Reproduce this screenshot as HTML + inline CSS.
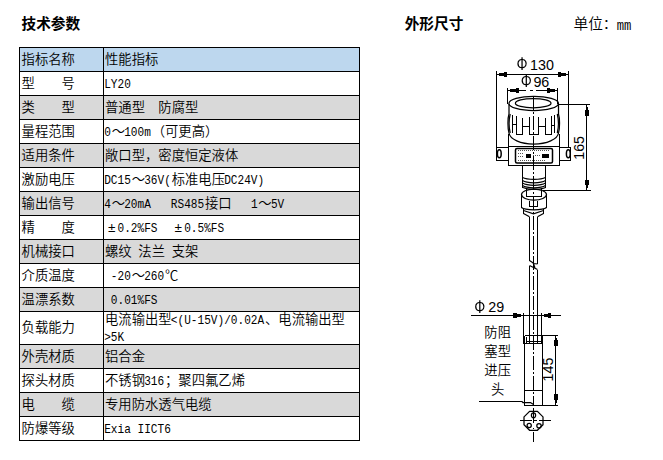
<!DOCTYPE html>
<html lang="zh-CN">
<head>
<meta charset="utf-8">
<title>技术参数</title>
<style>
html,body{margin:0;padding:0;background:#fff;}
body{width:663px;height:460px;position:relative;overflow:hidden;font-family:"Liberation Mono","Noto Sans CJK SC",sans-serif;color:#000;font-weight:350;}
.h{position:absolute;font-family:"Liberation Sans","Noto Sans CJK SC",sans-serif;font-weight:bold;font-size:14.67px;line-height:20px;white-space:nowrap;}
.u{position:absolute;font-size:14.67px;line-height:20px;white-space:nowrap;}
#tb{position:absolute;left:19px;top:47px;width:341px;height:394px;background:#000;}
.r{position:absolute;left:1px;width:339px;height:23px;background:#fff;}
.r.g{background:#d9d9d9;}
.r.b{background:#bdd7ee;}
.r i{position:absolute;left:83px;top:0;width:1px;height:100%;background:#000;}
.r span{position:absolute;top:1px;line-height:23px;font-size:13.333px;white-space:pre;}
.r .a{left:1.6px;}
.r .c{left:85px;}
.r span b,.u b{position:relative;left:-0.8px;display:inline-block;font-weight:normal;font-family:"Liberation Mono",monospace;font-size:11.111px;line-height:12px;transform:scaleY(1.2);transform-origin:0 80%;white-space:pre;}
.r span em{display:inline-block;width:13.333px;text-align:center;font-style:normal;}
#lbl{position:absolute;left:477.700px;top:325.100px;width:40px;text-align:center;font-size:13.333px;line-height:18.900px;white-space:nowrap;}
</style>
</head>
<body>
<div class="h" style="left:21.5px;top:13.6px;">技术参数</div>
<div class="h" style="left:404.7px;top:13.6px;">外形尺寸</div>
<div class="u" style="left:573.5px;top:14.6px;">单位：<b style="font-size:12.222px;top:1.5px">mm</b></div>
<div id="tb">
<div class="r b" style="top:1px"><span class="a">指标名称</span><i></i><span class="c">性能指标</span></div>
<div class="r" style="top:25px"><span class="a">型　　号</span><i></i><span class="c"><b>LY20</b></span></div>
<div class="r g" style="top:49px"><span class="a">类　　型</span><i></i><span class="c">普通型　防腐型</span></div>
<div class="r" style="top:73px"><span class="a">量程范围</span><i></i><span class="c"><b>0</b>～<b>100m</b>（可更高）</span></div>
<div class="r g" style="top:97px"><span class="a">适用条件</span><i></i><span class="c">敞口型，密度恒定液体</span></div>
<div class="r" style="top:121px"><span class="a">激励电压</span><i></i><span class="c"><b>DC15</b>～<b>36V(</b>标准电压<b>DC24V)</b></span></div>
<div class="r g" style="top:145px"><span class="a">输出信号</span><i></i><span class="c"><b>4</b>～<b>20mA   RS485</b>接口<b>   1</b>～<b>5V</b></span></div>
<div class="r" style="top:169px"><span class="a">精　　度</span><i></i><span class="c"><em>±</em><b>0.2%FS  </b><em>±</em><b>0.5%FS</b></span></div>
<div class="r g" style="top:193px"><span class="a">机械接口</span><i></i><span class="c">螺纹<b> </b>法兰<b> </b>支架</span></div>
<div class="r" style="top:217px"><span class="a">介质温度</span><i></i><span class="c"><b> -20</b>～<b>260</b>℃</span></div>
<div class="r g" style="top:241px"><span class="a">温漂系数</span><i></i><span class="c"><b> 0.01%FS</b></span></div>
<div class="r" style="top:265px;height:32px"><span class="a" style="line-height:32px">负载能力</span><i></i><span class="c" style="line-height:17px;top:0">电流输出型<b>&lt;(U-15V)/0.02A</b>、电流输出型
<b>&gt;5K</b></span></div>
<div class="r g" style="top:298px"><span class="a">外壳材质</span><i></i><span class="c">铝合金</span></div>
<div class="r" style="top:322px"><span class="a">探头材质</span><i></i><span class="c">不锈钢<b>316</b>；聚四氟乙烯</span></div>
<div class="r g" style="top:346px"><span class="a">电　　缆</span><i></i><span class="c">专用防水透气电缆</span></div>
<div class="r" style="top:370px"><span class="a">防爆等级</span><i></i><span class="c"><b>Exia IICT6</b></span></div>
</div>
<svg id="dw" width="663" height="460" viewBox="0 0 663 460" style="position:absolute;left:0;top:0;">
<g fill="none" stroke="#000" stroke-width="1" shape-rendering="crispEdges">
<!-- dim 130 -->
<path d="M496.5 71V160M568.5 71V148M496 74.5H569"/>
<!-- dim 96 -->
<path d="M507.5 88V104M557.5 88V104M507 90.5H526M530 90.5H533M536 90.5H558"/>
<!-- dim 165 -->
<path d="M558 104.5H590M543 190.5H591M586.5 104V191"/>
<!-- dim 29 -->
<path d="M471 315.5H561M523.5 313V344M541.5 313V344"/>
<!-- dim 145 -->
<path d="M542 335.5H558M525 405.5H558M555.5 335V406"/>
<!-- leader -->
<path d="M479 401.5H522"/>
<!-- body box -->
<path d="M509 146.5H560M508.5 134V165M559.5 134V165M508 165.5H560"/>
<!-- bolts -->
<path d="M496 147.5H508M496 160.5H508M560 147.5H570M560 160.5H570M570.5 147V161"/>
<!-- neck -->
<path d="M522.5 166V188M545.5 166V188"/>
<!-- stem into nut -->
<path d="M526.5 188V197M541.5 188V197M526 196.5H542"/>
<!-- nut sides -->
<path d="M521.5 194V208M546.5 194V208M523.5 209V214M543.5 209V214"/>
<!-- small box in nut -->
<path d="M529.5 201V206M537.5 201V206M529 206.5H538"/>
<!-- cable upper -->
<path d="M529.5 217V261M537.5 217V264"/>
<!-- cable lower -->
<path d="M529.5 266V343M537.5 270V343"/>
<!-- collar -->
<path d="M525 335.5H542M523 343.5H542M527 341.5H541M526.5 337V343"/>
<!-- probe -->
<path d="M524.5 336V406M542.5 336V406M525 390.5H542"/>
<!-- bottom view crosshair -->
<path d="M520 420.5H532M533 420.5H537M539 420.5H551M533.5 408V423M533.5 427.500V428.500M533.5 432V442"/>
</g>
<g fill="none" stroke="#000" stroke-width="1.250">
<!-- head ellipses -->
<ellipse cx="533.7" cy="103.4" rx="24.8" ry="7.1"/>
<ellipse cx="533.2" cy="103.2" rx="17.8" ry="4.6"/>
<!-- cap sides -->
<path d="M509 104V114C507.6 118 507.6 128 509 133"/>
<path d="M510.2 114C509 119 509 128 510.2 133"/>
<path d="M558.5 104V114C559.9 118 559.9 128 558.5 133"/>
<path d="M557.3 114C558.5 119 558.5 128 557.3 133"/>
<!-- cap bottom arc -->
<path d="M509 133A24.8 11.8 0 0 0 558.5 133"/>
<!-- ribs -->
<path shape-rendering="crispEdges" d="M512.5 115V133M512.5 124.500H516.500M516.500 116V134.500H522.500V118M522.500 126.500H529.500M529.500 117V134.500H538.500V117M538.500 126.500H545.500M545.500 118V134.500H551.500V116M551.500 125.500H554.500M554.500 115V133"/>
<!-- label plate -->
<rect x="515.500" y="148.500" width="37" height="14.500" rx="1.500" stroke-width="1.500"/>
<!-- bolt heads -->
<ellipse cx="499.300" cy="153.800" rx="1.900" ry="4" stroke-width="1.5"/>
<ellipse cx="568.300" cy="153.800" rx="1.900" ry="4" stroke-width="1.5"/>
<!-- threads -->
<path d="M522.500 177.500C527 180 541 180 545.500 177.500M522.500 180.500C527 183.500 541 183.500 545.500 180.500M522.500 183C527 186 541 186 545.500 183M522.500 185.500C527 188.500 541 188.500 545.500 185.500M523 187.500C528 190 541 190 545.500 187.500"/>
<!-- nut -->
<ellipse cx="534" cy="194.600" rx="12.500" ry="5.500"/>
<path d="M521.500 207.500C525 210.500 543 210.500 546.500 207.500"/>
<path d="M523.500 213.500L529.500 216.800M543.500 213.500L537.500 216.800M523.500 210.500L533.500 213.800L543.500 210.500"/>
<!-- cable break -->
<path d="M529.500 260.500L534 263.500L537.500 264M529.500 265.500L537.500 269.500M533 262.500L535 268"/>
<!-- leader tail -->
<path d="M522 401.500L523 402.500H530.500L533.500 404.500"/>
<!-- bottom view -->
<polygon points="543.0,424.7 537.4,430.3 529.6,430.3 524.0,424.7 524.0,416.9 529.6,411.3 537.4,411.3 543.0,416.9"/>
<ellipse cx="533.500" cy="415.300" rx="2.100" ry="2.500"/>
<circle cx="529.200" cy="425.500" r="2.100"/>
<circle cx="539" cy="425.700" r="2.200"/>
</g>
<!-- centerline -->
<path d="M533.500 96V405" fill="none" stroke="#000" stroke-width="1" stroke-dasharray="14 2 2 2" shape-rendering="crispEdges"/>
<!-- arrows -->
<g fill="#000" stroke="none" shape-rendering="crispEdges">
<rect x="499" y="73" width="5" height="3"/>
<rect x="504" y="72" width="3" height="5"/>
<rect x="561" y="73" width="5" height="3"/>
<rect x="558" y="72" width="3" height="5"/>
<rect x="510" y="89" width="6" height="3"/>
<rect x="516" y="88" width="3" height="5"/>
<rect x="550" y="89" width="5" height="3"/>
<rect x="547" y="88" width="3" height="5"/>
<rect x="516.5" y="314" width="4.5" height="3"/>
<rect x="513" y="313" width="3.5" height="5"/>
<rect x="543.5" y="314" width="4.5" height="3"/>
<rect x="548" y="313" width="3" height="5"/>
<rect x="585.5" y="107" width="2" height="3"/>
<rect x="584.5" y="110" width="4" height="5.5"/>
<rect x="585.5" y="185" width="2" height="3"/>
<rect x="584.5" y="179.5" width="4" height="5.5"/>
<rect x="554.5" y="338" width="2" height="2"/>
<rect x="553.5" y="340" width="4" height="5.5"/>
<rect x="554.5" y="400" width="2" height="3"/>
<rect x="553.5" y="394" width="4" height="6"/>
<!-- label plate details -->
<rect x="525.500" y="154" width="5.500" height="3.500"/>
<rect x="541.500" y="154" width="7" height="3.500"/>
</g>
<g fill="none" stroke="#555" stroke-width="1" stroke-dasharray="1 1" shape-rendering="crispEdges">
<path d="M518 150.500H550M518 153.500H524M518 156.500H524M518 160.500H546M533 155.500H540"/>
</g>
<g font-family="'Liberation Sans',sans-serif" font-size="14.300" fill="#000">
<text x="530" y="70.400">130</text>
<text x="533.400" y="87">96</text>
<text x="488.300" y="312.300">29</text>
<text transform="translate(583.600,159.800) rotate(-90)">165</text>
<text transform="translate(553.300,381.500) rotate(-90)">145</text>
</g>
<g font-family="'WenQuanYi Zen Hei','Noto Sans CJK SC',sans-serif" font-size="15" fill="#000">
<text transform="translate(516.800,69.300) scale(0.87,1)">Φ</text>
<text transform="translate(520.900,86.200) scale(0.87,1)">Φ</text>
<text transform="translate(474.600,311.800) scale(0.87,1)">Φ</text>
</g>
</svg>
<div id="lbl">防阻<br>塞型<br>进压<br>头</div>
</body>
</html>
